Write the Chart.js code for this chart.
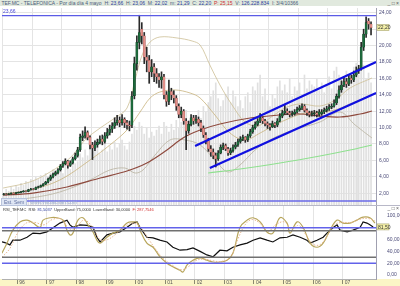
<!DOCTYPE html>
<html><head><meta charset="utf-8">
<script src="https://cdn.jsdelivr.net/npm/chart.js@4.4.0/dist/chart.umd.min.js"></script>
<style>
html,body{margin:0;padding:0;background:#fff;width:400px;height:286px;overflow:hidden;font-family:Arial,"Liberation Sans",sans-serif;}
#title{position:absolute;left:0;top:0;width:400px;height:6px;background:#e1e9de;font-size:5px;line-height:6px;color:#4a5a7a;white-space:nowrap;overflow:hidden;z-index:2;}
#title .v{color:#2a3a9a}#title .r{color:#d03030}
#icons1{position:absolute;right:1px;top:0;font-size:5px;line-height:6px;color:#555;z-index:3;}
#c1{position:absolute;left:0;top:0;}
#c2{position:absolute;left:0;top:206px;}
#band{position:absolute;left:0;top:279px;width:400px;height:7px;background:#fbf5c6;}
#sep{position:absolute;left:0;top:205px;width:400px;height:1px;background:#b8b8c8;z-index:2;}
#rsititle{position:absolute;left:3px;top:207px;font-size:4px;line-height:5px;color:#333;white-space:nowrap;z-index:3;}
#rsititle .v{color:#2a3a9a}#rsititle .r{color:#d03030}
#icons2{position:absolute;right:1px;top:206px;font-size:5px;line-height:5px;color:#555;z-index:3;}
#wm{position:absolute;left:1px;top:199px;font-size:5px;line-height:6px;color:#9fb0cf;z-index:3;white-space:nowrap;}
#wm span.b{background:#dfe6f4;border:1px solid #b9c4dc;color:#6070a0;padding:0 2px;margin-right:3px;}
</style></head>
<body>
<div id="band"></div>
<canvas id="c1" width="400" height="206"></canvas>
<canvas id="c2" width="400" height="80"></canvas>
<div id="title">&nbsp;TEF.MC - TELEFONICA - Por día día 4 mayo &nbsp;H: <span class="v">23,66</span> &nbsp;H: <span class="v">23,06</span> &nbsp;M: <span class="v">22,02</span> &nbsp;m: <span class="v">21,29</span> &nbsp;C: <span class="v">22,20</span> &nbsp;<span class="r">P: 25,15</span> &nbsp;V: <span class="v">126.228.834</span> &nbsp;I: 3/4/10366</div>
<div id="icons1">_ □ ×</div>
<div id="sep"></div>
<div id="wm"><span class="b">Est. Sem</span>www.visualchart.com</div>
<div id="rsititle">RSI_TEF.MC &nbsp;RSI: <span class="v">81,5037</span> &nbsp;UpperBand: 75,0000 &nbsp;LowerBand: 30,0000 &nbsp;<span class="r">F: 287,7546</span></div>
<div id="icons2">_ □ ×</div>
<script>
// ---------- DATA ----------
const startYear = 1995, startMonth = 7; // first monthly candle: July 1995
const closes = [
 1.90,1.85,1.92,2.00,1.95,2.05,
 2.10,2.18,2.25,2.22,2.42,2.50,2.46,2.70,2.78,2.92,3.10,3.35,
 3.70,4.00,4.30,4.50,4.85,5.30,5.60,5.90,5.40,5.70,6.20,6.60,
 7.30,8.80,9.00,9.40,8.80,7.90,7.50,7.90,8.20,8.60,8.30,9.00,
 9.40,9.80,10.20,10.60,10.90,10.60,11.00,10.60,10.30,10.20,13.80,17.80,
 20.40,21.60,21.20,18.60,18.20,16.80,17.40,16.60,16.20,15.80,16.20,14.00,
 13.20,14.40,14.00,13.60,12.60,11.60,12.00,10.80,9.60,10.40,11.20,10.80,
 11.00,10.60,9.90,9.10,8.40,7.40,7.00,6.60,6.20,6.90,7.60,7.80,
 7.40,6.90,7.20,7.60,7.90,8.30,8.60,8.80,8.50,9.00,9.50,10.00,
 10.40,10.80,11.20,10.80,10.50,10.30,10.10,10.50,10.30,10.80,11.40,11.80,
 12.00,11.80,11.60,11.70,11.90,12.20,12.40,12.60,12.10,11.80,11.60,11.70,
 11.80,11.60,11.90,11.90,12.10,12.30,12.50,12.60,13.00,13.80,14.60,15.20,
 15.60,15.30,16.00,15.80,16.40,16.90,17.20,19.80,21.40,22.80,22.60,22.20];
const opens = [
 1.85,1.90,1.85,1.92,2.00,1.95,
 2.05,2.10,2.18,2.25,2.22,2.42,2.50,2.46,2.70,2.78,2.92,3.10,
 3.35,3.70,4.00,4.30,4.50,4.85,5.30,5.60,5.90,5.40,5.70,6.20,
 6.60,7.30,8.80,9.00,9.40,8.80,7.90,7.50,7.90,8.20,8.60,8.30,
 9.00,9.40,9.80,10.20,10.60,10.90,10.60,11.00,10.60,10.30,10.30,13.90,
 17.80,20.40,22.00,21.20,18.60,18.20,16.80,17.40,16.60,16.20,15.80,16.20,
 14.00,13.20,14.40,14.00,13.60,12.60,11.60,12.00,10.80,9.60,10.40,11.20,
 10.80,11.00,10.60,9.90,9.10,8.40,7.40,7.00,6.60,6.20,6.90,7.60,
 7.80,7.40,6.90,7.20,7.60,7.90,8.30,8.60,8.80,8.50,9.00,9.50,
 10.00,10.40,10.80,11.20,10.80,10.50,10.30,10.10,10.50,10.30,10.80,11.40,
 11.80,12.00,11.80,11.60,11.70,11.90,12.20,12.40,12.60,12.10,11.80,11.60,
 11.70,11.80,11.60,11.70,11.90,12.10,12.30,12.50,12.60,13.00,13.80,14.60,
 15.20,15.60,15.30,16.00,15.80,16.40,16.90,17.20,19.80,21.40,23.00,22.60];
const highs = [
 1.98,1.95,1.96,2.06,2.04,2.10,
 2.16,2.24,2.32,2.30,2.48,2.58,2.56,2.76,2.86,3.00,3.18,3.45,
 3.85,4.20,4.45,4.70,5.00,5.50,5.85,6.20,6.00,5.95,6.40,6.90,
 7.60,9.20,9.60,10.10,9.60,9.00,8.20,8.40,8.60,9.00,9.10,9.40,
 9.90,10.30,10.60,11.20,11.50,11.30,11.60,11.20,10.90,10.80,14.40,18.60,
 21.20,23.70,22.80,21.60,19.80,18.80,18.30,17.80,17.20,16.60,16.80,16.50,
 14.40,15.80,14.80,14.50,13.90,12.90,12.50,12.20,11.10,10.80,11.60,11.50,
 11.50,11.30,10.90,10.20,9.40,8.70,7.80,7.40,6.90,7.20,7.90,8.10,
 8.00,7.60,7.50,7.90,8.20,8.60,8.90,9.10,8.90,9.20,9.80,10.30,
 10.70,11.10,11.70,11.30,11.00,10.70,10.50,10.80,10.60,11.10,11.70,12.10,
 12.70,12.30,12.00,12.00,12.20,12.50,12.70,12.90,12.80,12.30,12.00,12.00,
 12.10,12.00,12.20,12.20,12.40,12.60,12.80,12.90,13.40,14.10,15.10,15.70,
 16.20,16.00,16.50,16.40,16.90,17.40,17.60,20.40,22.00,23.50,23.30,22.90];
const lows = [
 1.80,1.80,1.82,1.88,1.90,1.92,
 2.00,2.04,2.12,2.16,2.18,2.36,2.40,2.44,2.62,2.72,2.86,3.05,
 3.25,3.55,3.85,4.15,4.35,4.70,5.15,5.45,5.05,5.25,5.55,6.05,
 6.40,7.10,8.40,8.70,8.50,7.40,6.10,7.20,7.60,8.00,7.90,8.10,
 8.70,9.10,9.40,9.90,10.30,10.10,10.30,10.00,9.80,9.60,10.00,13.50,
 17.00,19.60,20.20,17.80,16.80,15.40,16.20,15.60,15.40,14.90,14.80,13.50,
 12.60,12.80,13.40,13.00,12.10,11.20,11.20,10.40,7.30,9.30,10.20,10.40,
 10.50,10.20,9.50,8.80,8.00,7.10,6.50,6.20,5.20,6.00,6.80,7.30,
 7.20,6.60,6.70,7.00,7.40,7.70,8.10,8.40,8.20,8.30,8.80,9.30,
 9.80,10.20,10.60,10.50,10.20,9.90,9.70,10.00,10.00,10.10,10.70,11.20,
 11.60,11.60,11.30,11.40,11.50,11.80,12.00,12.20,11.90,11.50,11.30,11.40,
 11.40,11.30,11.40,11.50,11.70,11.90,12.10,12.30,12.50,12.80,13.60,14.30,
 15.00,14.90,15.10,15.40,15.60,16.20,16.60,17.00,19.40,21.00,22.00,21.30];
const volumes = [
 6,8,7,9,8,10,
 9,11,10,12,11,13,12,14,13,15,14,16,
 14,16,18,15,17,19,16,20,22,18,20,21,
 22,26,24,28,25,30,27,33,29,26,28,31,
 27,30,28,32,29,31,33,30,28,32,36,40,
 38,42,40,36,39,34,37,35,38,40,36,42,
 40,37,41,38,43,39,42,44,48,40,43,41,
 45,48,44,50,47,52,55,58,62,54,50,53,
 56,60,52,58,55,50,53,49,55,57,52,60,
 58,62,66,55,59,53,50,56,54,60,63,58,
 61,57,64,55,60,58,62,56,66,59,63,61,
 60,64,58,62,57,61,65,59,68,70,66,64,
 62,68,60,65,70,72,66,69,71,64,67,62];

const maLongX = [1995.52,1996.53,1997.68,1998.80,1999.71,2000.38,2001.06,2001.60,2002.18,2002.85,2003.87,2004.88,2005.56,2006.23,2006.91,2007.59,2007.99];
const maLongY = [1.75,2.02,2.76,3.85,4.71,5.68,7.27,8.73,9.70,10.44,11.17,11.54,11.66,11.41,11.29,11.66,12.02];
const bbUpX = [1995.52,1996.43,1997.11,1997.78,1998.29,1998.80,1999.30,1999.71,1999.98,2000.22,2000.49,2000.82,2001.40,2001.91,2002.18,2002.51,2002.85,2003.26,2003.70,2004.14,2004.54,2005.05,2005.56,2006.23,2006.74,2007.25,2007.99];
const bbUpY = [2.63,3.37,4.59,6.29,8.49,9.95,11.17,12.39,15.80,18.85,20.44,21.05,20.93,20.56,20.07,17.63,15.20,12.76,10.68,10.20,11.17,12.39,12.88,12.63,13.37,14.83,16.05];
const bbMidX = [1995.52,1996.43,1997.44,1998.46,1999.13,1999.71,2000.15,2000.49,2000.82,2001.33,2001.84,2002.18,2002.68,2003.19,2003.70,2004.21,2004.71,2005.22,2005.73,2006.23,2006.74,2007.25,2007.99];
const bbMidY = [1.90,2.39,3.61,6.05,7.88,9.71,11.90,13.61,14.34,14.59,14.22,13.61,11.54,9.34,8.49,9.34,10.32,11.17,11.78,11.90,12.15,12.88,13.98];
const bbLowX = [1995.52,1996.43,1997.44,1998.46,1999.13,1999.64,1999.98,2000.25,2000.66,2001.16,2001.67,2002.18,2002.68,2003.12,2003.53,2004.04,2004.54,2005.05,2005.56,2006.23,2006.91,2007.42,2007.99];
const bbLowY = [1.17,1.41,2.15,3.61,4.83,5.07,4.46,4.83,6.66,8.49,8.49,7.88,6.05,4.59,5.44,7.27,8.49,9.34,9.95,10.68,11.90,10.32,8.73];
const greenX = [2002.45,2003.53,2004.88,2006.23,2007.25,2007.99];
const greenY = [4.46,4.95,5.68,6.54,7.27,7.88];
const chanUpX = [2002.01,2008.13], chanUpY = [7.76,18.0];
const chanLowX = [2002.51,2008.13], chanLowY = [5.07,14.22];
const levelTop = 23.66, levelBottom = 1.05;
const lastPrice = 22.20;

const rsiX = [1995.48,1995.58,1995.75,1995.85,1996.09,1996.33,1996.53,1996.77,1997.00,1997.21,1997.44,1997.68,1997.78,1997.88,1998.12,1998.36,1998.56,1998.69,1998.80,1999.03,1999.24,1999.47,1999.71,1999.91,2000.05,2000.15,2000.38,2000.59,2000.82,2001.06,2001.26,2001.50,2001.74,2001.94,2002.18,2002.41,2002.62,2002.85,2003.09,2003.29,2003.53,2003.77,2003.97,2004.21,2004.44,2004.64,2004.88,2005.12,2005.32,2005.56,2005.79,2005.90,2006.13,2006.34,2006.47,2006.67,2006.81,2006.91,2007.15,2007.35,2007.59,2007.69,2007.82,2007.92,2008.03];
const rsiY = [56,55,51,59,59,64,71,70,73,80,88,93,85,81,85,84,81,64,56,68,71,73,81,88,90,80,64,63,59,56,47,42,43,46,40,34,31,42,41,47,51,54,59,63,59,56,63,64,68,64,59,54,59,64,71,80,85,76,73,76,81,90,88,85,81.5];
const stochX = [1995.48,1995.65,1995.85,1996.09,1996.33,1996.53,1996.77,1996.87,1997.11,1997.34,1997.55,1997.68,1997.78,1997.88,1998.05,1998.22,1998.39,1998.56,1998.69,1998.80,1999.03,1999.24,1999.47,1999.71,1999.91,2000.05,2000.15,2000.38,2000.59,2000.82,2001.06,2001.26,2001.50,2001.60,2001.74,2001.94,2002.18,2002.41,2002.62,2002.85,2003.09,2003.29,2003.53,2003.77,2003.97,2004.21,2004.44,2004.64,2004.88,2005.12,2005.22,2005.46,2005.66,2005.90,2006.13,2006.34,2006.57,2006.81,2007.01,2007.25,2007.48,2007.69,2007.92,2008.09];
const stochY = [37,54,76,90,93,88,81,93,97,97,93,76,68,71,93,97,85,73,59,54,64,71,76,88,90,89,76,54,47,31,20,14,8,5,17,25,29,25,22,22,25,37,81,93,97,90,73,71,97,88,71,90,81,54,47,54,76,93,88,88,93,98,97,88];
const signalX = [1995.48,1995.75,1996.00,1996.30,1996.60,1996.90,1997.18,1997.47,1997.77,1997.97,1998.26,1998.56,1998.80,1999.05,1999.35,1999.64,1999.94,2000.18,2000.45,2000.70,2000.94,2001.23,2001.53,2001.78,2002.02,2002.32,2002.62,2002.90,2003.20,2003.45,2003.70,2003.94,2004.24,2004.48,2004.73,2005.03,2005.27,2005.52,2005.76,2006.00,2006.25,2006.50,2006.75,2006.99,2007.29,2007.54,2007.83,2008.08];
const signalY = [30,45,70,88,89,85,94,95,78,80,93,80,60,60,70,82,88,80,60,42,28,17,9,14,24,27,24,23,30,60,85,94,86,74,85,90,78,84,68,52,52,68,86,89,89,94,96,92];
const rsiUpper = 80, rsiUpperBand = 75, rsiLowerBand = 30, rsiLower = 20;
const lastRsi = 81.50;
const yearTicks = [1996,1997,1998,1999,2000,2001,2002,2003,2004,2005,2006,2007];
const priceTicks = [2,4,6,8,10,12,14,16,18,20,22,24];
const rsiTicks = [0,20,40,60,80,100];

// ---------- BUILD ----------
const xMin = 1995.483, xMax = 2008.126;
const dates = closes.map((_, i) => startYear + (startMonth - 1 + i + 0.5) / 12);
const fmt = v => v.toFixed(2).replace('.', ',');
const pts = (xs, ys) => xs.map((x, i) => ({x, y: ys[i]}));
const line = (data, color, width, extra) => Object.assign({type:'line', data, borderColor:color, borderWidth:width, pointRadius:0, tension:0.35, fill:false, yAxisID:'y'}, extra || {});

const markers = {
  id: 'markers',
  afterDraw(chart, args, o) {
    const ctx = chart.ctx, y = chart.scales.y;
    ctx.save();
    (o.boxes || []).forEach(b => {
      const py = y.getPixelForValue(b.value);
      ctx.fillStyle = '#f4f0a8'; ctx.strokeStyle = '#a8a470'; ctx.lineWidth = 0.6;
      ctx.fillRect(y.left + 1, py - 3, 12, 6); ctx.strokeRect(y.left + 1, py - 3, 12, 6);
      ctx.fillStyle = '#333'; ctx.font = '5px Arial'; ctx.textBaseline = 'middle'; ctx.textAlign = 'left';
      ctx.fillText(fmt(b.value), y.left + 2, py + 0.5);
    });
    (o.tags || []).forEach(t => {
      const py = y.getPixelForValue(t.value);
      ctx.fillStyle = t.color; ctx.font = '5px Arial'; ctx.textBaseline = 'bottom'; ctx.textAlign = 'left';
      ctx.fillText(fmt(t.value), chart.chartArea.left + 1, py - 1);
    });
    ctx.restore();
  }
};

const c1 = new Chart(document.getElementById('c1'), {
  type: 'bar',
  plugins: [markers],
  data: { datasets: [
    {type:'bar', data: pts(dates, volumes), yAxisID:'yv', backgroundColor:'#e0e0e0', barThickness:1, grouped:false, order:20},
    line(pts(bbUpX, bbUpY), '#cdbf95', 0.8, {order:15}),
    line(pts(bbLowX, bbLowY), '#b9b3a0', 0.8, {order:15}),
    line(pts(bbMidX, bbMidY), '#c8b27c', 0.8, {order:14}),
    line(pts(maLongX, maLongY), '#8e4a3e', 1.2, {order:13}),
    line(pts(greenX, greenY), '#8fe08f', 1.2, {order:13}),
    {type:'bar', data: dates.map((x, i) => ({x, y:[lows[i], highs[i]]})), yAxisID:'y', backgroundColor:'#2a2a2a', barThickness:1, grouped:false, order:6},
    {type:'bar', data: dates.map((x, i) => ({x, y:[opens[i], closes[i]]})), yAxisID:'y',
      backgroundColor: closes.map((c, i) => c >= opens[i] ? '#1d6a3c' : '#e3908a'),
      borderColor: closes.map((c, i) => c >= opens[i] ? '#0f3a20' : '#9a4a46'), borderWidth:0.4, borderSkipped:false,
      barThickness:2.2, grouped:false, order:5},
    line(pts([xMin, xMax], [levelTop, levelTop]), '#5b5be6', 1.3, {tension:0, order:2}),
    line(pts([xMin, xMax], [levelBottom, levelBottom]), '#6a6ae8', 1.3, {tension:0, order:2}),
    line(pts(chanUpX, chanUpY), '#1010e0', 2.2, {tension:0, order:1}),
    line(pts(chanLowX, chanLowY), '#1010e0', 2.2, {tension:0, order:1})
  ]},
  options: {
    responsive:false, animation:false, events:[],
    layout:{padding:{top:8, bottom:1, left:2, right:0}},
    plugins:{legend:{display:false}, tooltip:{enabled:false},
      markers:{boxes:[{value:lastPrice}], tags:[{value:levelTop, color:'#4a4ad8'}]}},
    scales:{
      x:{type:'linear', min:xMin, max:xMax, offset:false,
        grid:{color:'#e4e4e4', drawTicks:false}, border:{display:false},
        ticks:{display:false},
        afterBuildTicks(s){ s.ticks = yearTicks.map(v => ({value:v})); },
        afterFit(s){ s.height = 0; }},
      y:{position:'right', min:0.561, max:24.585,
        grid:{color:'#e4e4e4', drawTicks:false}, border:{color:'#a0a0b0'},
        ticks:{font:{size:5, family:'Arial'}, color:'#4a4a78', padding:3, callback:v => v === 22 ? '' : fmt(v)},
        afterBuildTicks(s){ s.ticks = priceTicks.map(v => ({value:v})); },
        afterFit(s){ s.width = 24; s.paddingTop = 0; s.paddingBottom = 0; }},
      yv:{display:false, min:0, max:100}
    }
  }
});

const c2 = new Chart(document.getElementById('c2'), {
  type: 'line',
  plugins: [markers],
  data: { datasets: [
    line(pts([xMin, xMax], [rsiUpper, rsiUpper]), '#6262ea', 1.5, {tension:0}),
    line(pts([xMin, xMax], [rsiUpperBand, rsiUpperBand]), '#707070', 1.5, {tension:0}),
    line(pts([xMin, xMax], [rsiLowerBand, rsiLowerBand]), '#707070', 1.5, {tension:0}),
    line(pts([xMin, xMax], [rsiLower, rsiLower]), '#6262ea', 1.5, {tension:0}),
    line(pts(signalX, signalY), '#e8b58e', 1, {borderDash:[1.5,1.5], tension:0.4}),
    line(pts(stochX, stochY), '#b8a65c', 1.2, {tension:0.4}),
    line(pts(rsiX, rsiY), '#111111', 1.2, {tension:0})
  ]},
  options: {
    responsive:false, animation:false, events:[],
    layout:{padding:{top:0, bottom:0, left:2, right:0}},
    plugins:{legend:{display:false}, tooltip:{enabled:false}, markers:{boxes:[{value:lastRsi}]}},
    scales:{
      x:{type:'linear', min:xMin, max:xMax, offset:false,
        grid:{color:'#e4e4e4', tickLength:5, tickColor:'#8a8a70'}, border:{color:'#b0b0b0'},
        ticks:{font:{size:5, family:'Arial'}, color:'#555', align:'start', labelOffset:2, padding:-4, maxRotation:0, autoSkip:false,
          callback:v => String(v).slice(2)},
        afterBuildTicks(s){ s.ticks = yearTicks.map(v => ({value:v})); },
        afterFit(s){ s.height = 7; }},
      y:{position:'right', min:-6.78, max:116.95,
        grid:{display:false}, border:{color:'#a0a0b0'},
        ticks:{font:{size:5, family:'Arial'}, color:'#4a4a78', padding:3, callback:v => v === 80 ? '' : fmt(v)},
        afterBuildTicks(s){ s.ticks = rsiTicks.map(v => ({value:v})); },
        afterFit(s){ s.width = 24; s.paddingTop = 0; s.paddingBottom = 0; }}
    }
  }
});
</script>
</body></html>
